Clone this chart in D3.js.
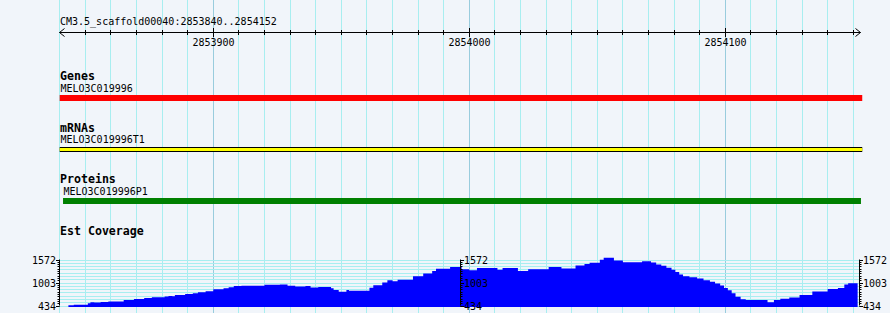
<!DOCTYPE html>
<html>
<head>
<meta charset="utf-8">
<script src="https://cdn.jsdelivr.net/npm/d3@7"></script>
<style>
  body { margin: 0; background: #f1f5fa; }
  svg { display: block; }
  text { font-family: "DejaVu Sans Mono", monospace; font-size: 10px; fill: #000; }
  .lbl { font-weight: bold; font-size: 11.6px; }
</style>
</head>
<body>
<script>
// region shown
const refName = "CM3.5_scaffold00040";
const regionStart = 2853840;
const regionEnd = 2854152;
const rulerTicks = [2853900, 2854000, 2854100];

// tracks and features
const trackNames = ["Genes", "mRNAs", "Proteins", "Est Coverage"];
const featureNames = ["MELO3C019996", "MELO3C019996T1", "MELO3C019996P1"];
const featureStarts = [2853840, 2853840, 2853841.3];
const featureEnds = [2854153.5, 2854153.5, 2854153];

// est coverage (step plot), positions are offsets from regionStart
const covTickLabels = [434, 1003, 1572];
const covOffsets = [3.4, 5.5, 11, 12, 13.5, 16, 19, 25, 29, 33, 36, 41, 42.5, 44, 45, 49, 52, 54, 57, 60,
  64, 66, 68, 71, 80, 86, 89, 92, 96, 98, 101, 106, 107, 109, 112, 113, 121, 122.5, 126, 128,
  130, 132, 138, 142, 145.5, 147, 152.5, 157, 160, 163, 171, 173, 179, 183, 191, 196, 201.5, 205, 207, 211,
  212.5, 216.5, 220, 227.5, 231, 233, 235, 237, 239, 240.5, 242, 243.5, 246, 249, 251.5, 254, 256, 258, 259.5, 261,
  262.5, 264, 266, 268, 276.5, 279, 281.5, 285, 289, 294, 300, 304, 306.5, 308];
const covValues = [440, 451, 492, 517, 507, 520, 531, 573, 597, 620, 639, 655, 670, 660, 695, 719, 735, 760, 785, 834,
  858, 885, 914, 921, 946, 955, 921, 907, 915, 882, 890, 858, 817, 775, 817, 800, 873, 938, 1004, 1060,
  1036, 1068, 1158, 1224, 1287, 1345, 1384, 1328, 1304, 1360, 1321, 1360, 1287, 1328, 1384, 1350, 1426, 1460, 1492, 1565,
  1613, 1548, 1506, 1531, 1500, 1450, 1418, 1370, 1321, 1263, 1200, 1158, 1130, 1100, 1060, 1020, 980, 930, 870, 810,
  740, 653, 590, 573, 517, 573, 600, 630, 695, 780, 840, 870, 955, 985];
const covEnd = 311.7;

const W = 890, H = 313;
const svg = d3.select("body").append("svg").attr("width", W).attr("height", H);

svg.append("rect").attr("width", W).attr("height", H).attr("fill", "#f1f5fa");

const x = d3.scaleLinear().domain([regionStart, regionEnd]).range([59.7, 858.4]);
const px = v => Math.floor(x(v)) + 0.5;

// vertical grid every 10 bp
const gridPos = d3.range(Math.ceil(regionStart / 10) * 10, regionEnd + 1, 10);
svg.append("g").selectAll("line").data(gridPos).enter().append("line")
  .attr("x1", d => px(d)).attr("x2", d => px(d))
  .attr("y1", 0).attr("y2", H)
  .attr("stroke", d => d % 100 === 0 ? "#99ccdd" : "#a8eef0");

// ruler
svg.append("text").attr("x", 60).attr("y", 25).text(`${refName}:${regionStart}..${regionEnd}`);
const ry = 32.5;
const ruler = svg.append("g").attr("stroke", "#000").attr("fill", "none");
ruler.append("line").attr("x1", px(regionStart)).attr("x2", px(regionEnd) + 2).attr("y1", ry).attr("y2", ry);
ruler.append("path").attr("d", `M${px(regionStart) + 5},${ry - 4}L${px(regionStart)},${ry}L${px(regionStart) + 5},${ry + 4}`);
ruler.append("path").attr("d", `M${px(regionEnd) - 3},${ry - 4}L${px(regionEnd) + 2},${ry}L${px(regionEnd) - 3},${ry + 4}`);
ruler.selectAll(".mt").data(gridPos.filter(d => d !== regionStart)).enter().append("line")
  .attr("x1", d => px(d)).attr("x2", d => px(d))
  .attr("y1", d => d % 100 === 0 ? 28 : 30).attr("y2", d => d % 100 === 0 ? 37 : 35);
svg.selectAll(".rt").data(rulerTicks).enter().append("text")
  .attr("x", d => px(d)).attr("y", 46).attr("text-anchor", "middle").text(d => d);

// feature tracks
const labelY = [80, 131.5, 182.5, 235];
const nameY = [91.5, 143, 194.5];
trackNames.forEach((t, i) => {
  svg.append("text").attr("class", "lbl").attr("x", 60).attr("y", labelY[i]).text(t);
});
featureNames.forEach((n, i) => {
  svg.append("text").attr("x", Math.round(x(featureStarts[i])) + 0.5).attr("y", nameY[i]).text(n);
});
svg.append("rect").attr("x", x(featureStarts[0])).attr("y", 95)
  .attr("width", x(featureEnds[0]) - x(featureStarts[0])).attr("height", 6).attr("fill", "#ff0000");
// mRNA: yellow with black edges top and bottom
svg.append("rect").attr("x", x(featureStarts[1])).attr("y", 147)
  .attr("width", x(featureEnds[1]) - x(featureStarts[1])).attr("height", 5).attr("fill", "#000");
svg.append("rect").attr("x", x(featureStarts[1])).attr("y", 148)
  .attr("width", x(featureEnds[1]) - x(featureStarts[1])).attr("height", 3).attr("fill", "#ffff00");
svg.append("rect").attr("x", x(featureStarts[2])).attr("y", 198)
  .attr("width", x(featureEnds[2]) - x(featureStarts[2])).attr("height", 6).attr("fill", "#008000");

// coverage
const yMin = covTickLabels[0], yMax = covTickLabels[covTickLabels.length - 1];
const y = d3.scaleLinear().domain([yMin, yMax]).range([305.5, 259.5]);
const hGrid = d3.range(0, 15).map(k => yMin + k * (yMax - yMin) / 14);
svg.append("g").selectAll("line").data(hGrid).enter().append("line")
  .attr("x1", px(regionStart)).attr("x2", px(regionEnd) + 1)
  .attr("y1", d => Math.round(y(d)) + 0.5).attr("y2", d => Math.round(y(d)) + 0.5)
  .attr("stroke", "#a8eef0");

const covPts = covOffsets.map((o, i) => [regionStart + o, covValues[i]]);
covPts.push([regionStart + covEnd, covValues[covValues.length - 1]]);
const area = d3.area().curve(d3.curveStepAfter)
  .x(d => x(d[0])).y0(307).y1(d => y(d[1]));
svg.append("path").datum(covPts).attr("d", area).attr("fill", "#0000ff");

// coverage scales at left, middle, right
const minorTicks = d3.range(0, 21).map(k => yMin + k * (yMax - yMin) / 20);
const axisX = [px(regionStart), Math.floor((x.range()[0] + x.range()[1]) / 2) + 1.5, px(regionEnd) + 1];
axisX.forEach((ax, i) => {
  const dir = i === 0 ? -1 : 1;
  const g = svg.append("g");
  g.append("line").attr("x1", ax).attr("x2", ax).attr("y1", y(yMax)).attr("y2", y(yMin)).attr("stroke", "#000");
  g.selectAll(".mn").data(minorTicks).enter().append("line")
    .attr("x1", ax).attr("x2", ax + dir * 2)
    .attr("y1", d => Math.round(y(d)) + 0.5).attr("y2", d => Math.round(y(d)) + 0.5).attr("stroke", "#000");
  g.selectAll(".mj").data(covTickLabels).enter().append("line")
    .attr("x1", ax).attr("x2", ax + dir * 3.5)
    .attr("y1", d => Math.round(y(d)) + 0.5).attr("y2", d => Math.round(y(d)) + 0.5).attr("stroke", "#000");
  g.selectAll("text").data(covTickLabels).enter().append("text")
    .attr("x", ax + dir * 3.5).attr("y", d => y(d) + 4)
    .attr("text-anchor", i === 0 ? "end" : "start").text(d => d);
});
</script>
</body>
</html>
